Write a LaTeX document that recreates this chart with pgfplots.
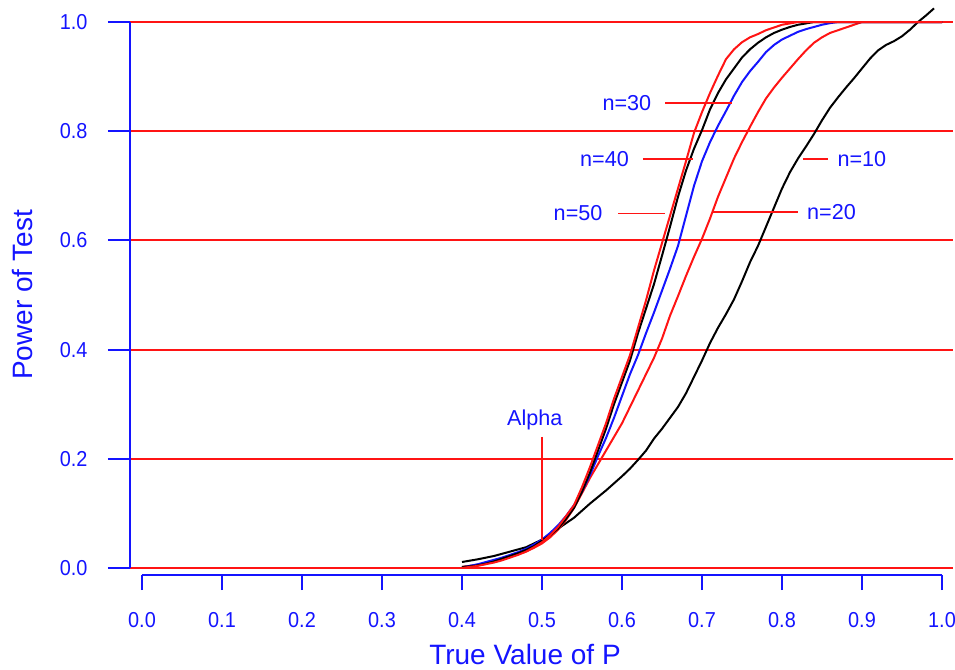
\documentclass[border=0pt]{standalone}
\usepackage{pgfplots}
\pgfplotsset{compat=1.18}
\usepackage{fontspec}
\setmainfont{Liberation Sans}
\newfontfamily\tickfont[FakeStretch=0.92]{Liberation Sans}
\definecolor{cblue}{RGB}{20,20,255}
\definecolor{cred}{RGB}{255,20,20}
\begin{document}
\begin{tikzpicture}
\useasboundingbox (0,0) rectangle (477.5pt,335pt);
\begin{axis}[
  at={(65pt,47.5pt)}, anchor=south west,
  scale only axis, width=411.5pt, height=287.4pt,
  xmin=-0.015, xmax=1.01375, ymin=-0.01282, ymax=1.04,
  axis line style={draw=none},
  xtick={0,0.1,0.2,0.3,0.4,0.5,0.6,0.7,0.8,0.9,1.0},
  ytick={0,0.2,0.4,0.6,0.8,1.0},
  xtick pos=bottom, ytick pos=left,
  tick align=outside,
  x tick style={cblue, line width=1pt, /pgfplots/major tick length=7.5pt},
  y tick style={cblue, line width=1pt, /pgfplots/major tick length=11pt},
  ymajorgrids, major grid style={cred, line width=1pt},
  /pgf/number format/.cd, fixed, fixed zerofill, precision=1, assume math mode=true,
  /pgfplots/.cd,
  tick label style={text=cblue, font=\tickfont\fontsize{10.8}{12}\selectfont},
  xticklabel style={yshift=-11pt},
  yticklabel style={xshift=-13.5pt},
  clip=false,
  every axis plot/.append style={line width=1pt},
]
\draw[cblue, line width=1pt] (-0.015,0) -- (-0.015,1);
\draw[cblue, line width=1pt] (0,-0.01282) -- (1,-0.01282);
% n=10
\addplot[black] coordinates {
(0.40,0.011)(0.42,0.016)(0.44,0.022)(0.46,0.030)(0.48,0.038)(0.50,0.052)(0.52,0.072)(0.53,0.082)(0.54,0.092)(0.55,0.105)(0.56,0.118)(0.57,0.130)(0.58,0.142)(0.59,0.155)(0.60,0.168)(0.61,0.182)(0.62,0.198)(0.63,0.215)(0.64,0.237)(0.65,0.255)(0.66,0.275)(0.67,0.295)(0.68,0.320)(0.69,0.350)(0.70,0.380)(0.71,0.412)(0.72,0.440)(0.73,0.465)(0.74,0.492)(0.75,0.525)(0.76,0.560)(0.77,0.590)(0.78,0.625)(0.79,0.660)(0.80,0.695)(0.81,0.725)(0.82,0.750)(0.83,0.772)(0.84,0.795)(0.85,0.820)(0.86,0.843)(0.87,0.862)(0.88,0.880)(0.89,0.897)(0.90,0.915)(0.91,0.933)(0.92,0.948)(0.93,0.958)(0.94,0.965)(0.95,0.974)(0.96,0.986)(0.97,1.000)(0.98,1.012)(0.99,1.025)
};
% n=20
\addplot[cred] coordinates {
(0.40,0.002)(0.41,0.004)(0.42,0.006)(0.43,0.009)(0.44,0.012)(0.45,0.016)(0.46,0.020)(0.47,0.025)(0.48,0.030)(0.49,0.037)(0.50,0.045)(0.51,0.056)(0.52,0.070)(0.53,0.088)(0.54,0.110)(0.55,0.137)(0.56,0.165)(0.57,0.190)(0.58,0.215)(0.59,0.240)(0.60,0.265)(0.61,0.295)(0.62,0.325)(0.63,0.355)(0.64,0.385)(0.65,0.420)(0.66,0.462)(0.67,0.498)(0.68,0.535)(0.69,0.570)(0.70,0.603)(0.71,0.640)(0.72,0.680)(0.73,0.715)(0.74,0.750)(0.75,0.780)(0.76,0.808)(0.77,0.835)(0.78,0.860)(0.79,0.880)(0.80,0.898)(0.81,0.915)(0.82,0.932)(0.83,0.948)(0.84,0.962)(0.85,0.972)(0.86,0.980)(0.87,0.985)(0.88,0.990)(0.89,0.995)(0.90,1.000)(1.00,1.000)
};
% n=30
\addplot[cblue] coordinates {
(0.40,0.001)(0.41,0.004)(0.42,0.007)(0.43,0.011)(0.44,0.015)(0.45,0.019)(0.46,0.024)(0.47,0.029)(0.48,0.035)(0.49,0.043)(0.50,0.052)(0.51,0.064)(0.52,0.078)(0.53,0.095)(0.54,0.115)(0.55,0.140)(0.56,0.170)(0.57,0.205)(0.58,0.238)(0.59,0.275)(0.60,0.315)(0.61,0.355)(0.62,0.390)(0.63,0.430)(0.64,0.468)(0.65,0.508)(0.66,0.548)(0.67,0.590)(0.68,0.645)(0.69,0.700)(0.70,0.745)(0.71,0.780)(0.72,0.810)(0.73,0.837)(0.74,0.865)(0.75,0.890)(0.76,0.910)(0.77,0.927)(0.78,0.945)(0.79,0.958)(0.80,0.968)(0.81,0.975)(0.82,0.982)(0.83,0.987)(0.84,0.991)(0.85,0.995)(0.86,0.998)(0.87,1.000)(1.00,1.000)
};
% n=40
\addplot[black] coordinates {
(0.40,0.002)(0.41,0.003)(0.42,0.005)(0.43,0.008)(0.44,0.012)(0.45,0.017)(0.46,0.022)(0.47,0.027)(0.48,0.033)(0.49,0.040)(0.50,0.050)(0.51,0.060)(0.52,0.072)(0.53,0.090)(0.54,0.110)(0.55,0.140)(0.56,0.175)(0.57,0.215)(0.58,0.255)(0.59,0.300)(0.60,0.340)(0.61,0.380)(0.62,0.430)(0.63,0.475)(0.64,0.520)(0.65,0.572)(0.66,0.625)(0.67,0.680)(0.68,0.728)(0.69,0.768)(0.70,0.802)(0.71,0.840)(0.72,0.870)(0.73,0.895)(0.74,0.915)(0.75,0.935)(0.76,0.950)(0.77,0.962)(0.78,0.972)(0.79,0.980)(0.80,0.986)(0.81,0.991)(0.82,0.995)(0.84,1.000)(1.00,1.000)
};
% n=50
\addplot[cred] coordinates {
(0.40,0.000)(0.41,0.002)(0.42,0.004)(0.43,0.007)(0.44,0.010)(0.45,0.014)(0.46,0.019)(0.47,0.024)(0.48,0.030)(0.49,0.038)(0.50,0.047)(0.51,0.060)(0.52,0.075)(0.53,0.095)(0.54,0.115)(0.55,0.148)(0.56,0.185)(0.57,0.225)(0.58,0.265)(0.59,0.310)(0.60,0.350)(0.61,0.390)(0.62,0.440)(0.63,0.490)(0.64,0.545)(0.65,0.595)(0.66,0.645)(0.67,0.695)(0.68,0.745)(0.69,0.797)(0.70,0.835)(0.71,0.870)(0.72,0.902)(0.73,0.932)(0.74,0.950)(0.75,0.963)(0.76,0.972)(0.77,0.978)(0.78,0.985)(0.79,0.990)(0.80,0.995)(0.82,1.000)(1.00,1.000)
};
% annotations
\begin{scope}[every node/.style={text=cblue, font=\fontsize{10.8}{12}\selectfont, inner sep=0pt}]
\draw[cred, line width=0.8pt] (0.654,0.852) -- (0.7375,0.852);
\node[anchor=east] at (0.637,0.852) {n=30};
\draw[cred, line width=0.8pt] (0.626,0.749) -- (0.689,0.749);
\node[anchor=east] at (0.609,0.749) {n=40};
\draw[cred, line width=0.6pt] (0.595,0.650) -- (0.654,0.650);
\node[anchor=east] at (0.576,0.650) {n=50};
\draw[cred, line width=0.8pt] (0.826,0.749) -- (0.8575,0.749);
\node[anchor=west] at (0.869,0.749) {n=10};
\draw[cred, line width=0.8pt] (0.714,0.652) -- (0.820,0.652);
\node[anchor=west] at (0.831,0.652) {n=20};
\draw[cred, line width=0.8pt] (0.5,0.24) -- (0.5,0.051);
\node at (0.491,0.271) {Alpha};
\end{scope}
\end{axis}
\node[text=cblue, font=\fontsize{14}{16}\selectfont, anchor=base] at (262.5pt,2.5pt) {True Value of P};
\node[text=cblue, font=\fontsize{14}{16}\selectfont, anchor=base, rotate=90] at (16.5pt,187.5pt) {Power of Test};
\end{tikzpicture}
\end{document}
